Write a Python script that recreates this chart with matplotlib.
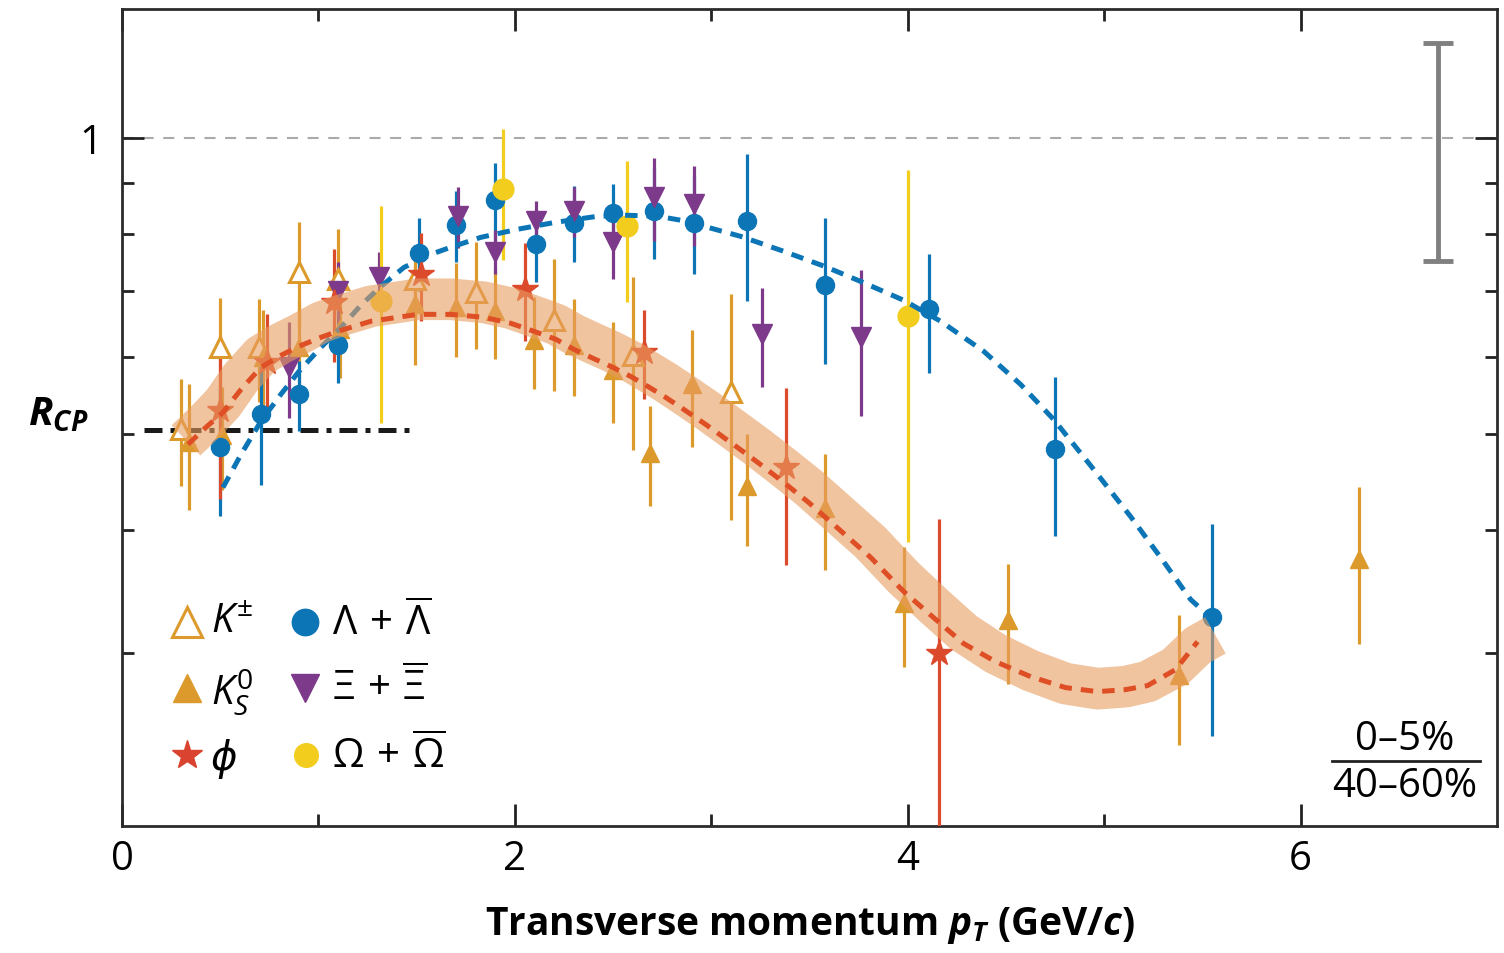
import matplotlib
matplotlib.use('Agg')
import matplotlib.pyplot as plt
from matplotlib.ticker import FixedLocator, FixedFormatter, NullFormatter

plt.rcParams['font.family'] = ['Open Sans', 'DejaVu Sans']
plt.rcParams['mathtext.fontset'] = 'custom'
plt.rcParams['mathtext.rm'] = 'Open Sans'
plt.rcParams['mathtext.it'] = 'Open Sans:italic'
plt.rcParams['mathtext.bf'] = 'Open Sans:bold'
plt.rcParams['mathtext.bfit'] = 'Open Sans:italic:bold'

# --- data (pT in GeV/c, R_CP) ---
kch_x = [0.30, 0.50, 0.70, 0.90, 1.10, 1.49, 1.80, 2.20, 2.60, 3.10]
kch_y = [0.506, 0.613, 0.613, 0.732, 0.719, 0.719, 0.697, 0.653, 0.602, 0.552]
kch_err = [0.063, 0.075, 0.073, 0.09, 0.09, 0.06, 0.087, 0.10, 0.12, 0.143]

ks_x = [0.34, 0.51, 0.72, 0.90, 1.11, 1.49, 1.70, 1.90, 2.10, 2.30, 2.50, 2.69,
        2.90, 3.18, 3.58, 3.98, 4.51, 5.38, 6.30]
ks_y = [0.491, 0.499, 0.599, 0.613, 0.640, 0.678, 0.673, 0.667, 0.623, 0.617,
        0.582, 0.479, 0.562, 0.443, 0.421, 0.337, 0.324, 0.285, 0.374]
ks_err = [0.072, 0.06, 0.07, 0.07, 0.07, 0.09, 0.073, 0.07, 0.067, 0.07,
          0.068, 0.056, 0.076, 0.058, 0.057, 0.047, 0.045, 0.043, 0.068]

phi_x = [0.50, 0.74, 1.08, 1.52, 2.05, 2.66, 3.38, 4.16]
phi_y = [0.530, 0.593, 0.682, 0.727, 0.702, 0.606, 0.463, 0.300]
phi_err = [0.10, 0.07, 0.09, 0.075, 0.08, 0.063, 0.095, 0.11]

lam_x = [0.50, 0.71, 0.90, 1.10, 1.51, 1.70, 1.90, 2.11, 2.30, 2.50, 2.71, 2.91,
         3.18, 3.58, 4.11, 4.75, 5.55]
lam_y = [0.485, 0.524, 0.549, 0.617, 0.764, 0.816, 0.865, 0.780, 0.821, 0.839,
         0.843, 0.821, 0.823, 0.709, 0.670, 0.483, 0.326]
lam_err = [0.072, 0.08, 0.045, 0.053, 0.065, 0.067, 0.078, 0.065, 0.073, 0.06,
           0.09, 0.094, 0.14, 0.12, 0.093, 0.089, 0.079]

xi_x = [0.85, 1.10, 1.31, 1.71, 1.90, 2.11, 2.30, 2.50, 2.71, 2.91, 3.26, 3.76]
xi_y = [0.585, 0.699, 0.722, 0.833, 0.767, 0.823, 0.843, 0.784, 0.871, 0.857, 0.632, 0.628]
xi_err = [0.065, 0.05, 0.045, 0.06, 0.04, 0.04, 0.05, 0.064, 0.084, 0.08, 0.073, 0.106]

om_x = [1.32, 1.94, 2.57, 4.00]
om_y = [0.684, 0.887, 0.814, 0.659]
om_err = [0.17, 0.135, 0.133, 0.27]

# fitted curves, traced point by point
lamfit_x = [0.514, 0.606, 0.707, 0.809, 0.901, 1.013, 1.115, 1.216, 1.318, 1.435,
            1.573, 1.674, 1.827, 2.015, 2.209, 2.422, 2.575, 2.728, 2.845, 2.962,
            3.150, 3.369, 3.578, 3.761, 3.980, 4.168, 4.387, 4.575, 4.743, 4.931,
            5.135, 5.288, 5.440, 5.542]
lamfit_y = [0.4416, 0.4771, 0.5155, 0.5492, 0.5795, 0.6131, 0.6424, 0.6764, 0.7069,
            0.7390, 0.7621, 0.7748, 0.7930, 0.8082, 0.8215, 0.8331, 0.8350, 0.8331,
            0.8254, 0.8139, 0.7948, 0.7675, 0.7408, 0.7152, 0.6844, 0.6516, 0.6074,
            0.5621, 0.5179, 0.4650, 0.4126, 0.3749, 0.3399, 0.3257]

kfit_x = [0.336, 0.427, 0.514, 0.606, 0.707, 0.809, 0.901, 1.013, 1.099, 1.267,
          1.506, 1.674, 1.842, 1.980, 2.097, 2.209, 2.300, 2.387, 2.489, 2.590,
          2.677, 2.768, 2.860, 2.972, 3.099, 3.237, 3.369, 3.496, 3.623, 3.812,
          3.980, 4.132, 4.285, 4.448, 4.626, 4.804, 4.967, 5.109, 5.221, 5.364, 5.476]
kfit_y = [0.4885, 0.5083, 0.5265, 0.5555, 0.5849, 0.6016, 0.6145, 0.6276, 0.6365,
          0.6516, 0.6622, 0.6622, 0.6577, 0.6485, 0.6365, 0.6247, 0.6102, 0.5989,
          0.5863, 0.5727, 0.5595, 0.5453, 0.5302, 0.5118, 0.4907, 0.4683, 0.4469,
          0.4264, 0.4050, 0.3749, 0.3462, 0.3257, 0.3065, 0.2938, 0.2837, 0.2765,
          0.2739, 0.2752, 0.2778, 0.2884, 0.3079]

band_x = [0.326, 0.427, 0.514, 0.606, 0.707, 0.809, 0.901, 1.013, 1.099, 1.267,
          1.506, 1.674, 1.842, 1.980, 2.097, 2.209, 2.300, 2.387, 2.489, 2.590,
          2.677, 2.768, 2.860, 2.972, 3.099, 3.237, 3.369, 3.496, 3.623, 3.812,
          3.980, 4.132, 4.285, 4.448, 4.626, 4.804, 4.967, 5.109, 5.221, 5.364,
          5.476, 5.567]
band_y = [0.4931, 0.5155, 0.5378, 0.5714, 0.6016, 0.6188, 0.6320, 0.6501, 0.6592,
          0.6747, 0.6860, 0.6860, 0.6812, 0.6717, 0.6592, 0.6470, 0.6320, 0.6203,
          0.6074, 0.5933, 0.5795, 0.5648, 0.5492, 0.5302, 0.5083, 0.4851, 0.4628,
          0.4417, 0.4195, 0.3882, 0.3577, 0.3350, 0.3145, 0.2994, 0.2877, 0.2791,
          0.2758, 0.2771, 0.2804, 0.2904, 0.3052, 0.3125]

ref_x = [0.11, 1.46]
ref_y = [0.505, 0.505]

sys_x, sys_y, sys_err = 6.70, 1.0, 0.25

x_major = [0, 2, 4, 6]
x_minor = [1, 3, 5]
y_major = [1]
y_minor = [0.3, 0.4, 0.5, 0.6, 0.7, 0.8, 0.9]

c_k = '#dc9a2c'
c_phi = '#dc4a2c'
c_lam = '#0b75b6'
c_xi = '#7e3a8a'
c_om = '#f2cd1e'
c_band = '#e89d61'

fig = plt.figure(figsize=(15.04, 9.54), dpi=100)
ax = fig.add_axes([0.0811, 0.1331, 0.9142, 0.8564])

ax.axhline(1.0, color='#aaaaaa', lw=1.5, ls=(0, (5.3, 4.6)), zorder=1)
ax.plot(ref_x, ref_y, color='#1a1a1a', lw=3.6, ls=(0, (3.6, 1.6, 1.0, 1.6)), zorder=2)

ekw = dict(elinewidth=2.3, capsize=0, linestyle='none', zorder=3)
ax.errorbar(kch_x, kch_y, yerr=kch_err, fmt='^', color=c_k, ms=14, mfc='white',
            mec=c_k, mew=2.2, **ekw)
ax.errorbar(ks_x, ks_y, yerr=ks_err, fmt='^', color=c_k, ms=13, **ekw)
ax.errorbar(lam_x, lam_y, yerr=lam_err, fmt='o', color=c_lam, ms=13, **ekw)
ax.errorbar(xi_x, xi_y, yerr=xi_err, fmt='v', color=c_xi, ms=15, **ekw)
ax.errorbar(om_x, om_y, yerr=om_err, fmt='o', color=c_om, ms=15, **ekw)
ax.errorbar(phi_x, phi_y, yerr=phi_err, fmt='*', color=c_phi, ms=19, **ekw)

ax.plot(lamfit_x, lamfit_y, color=c_lam, lw=3.6, ls=(0, (2.5, 1.8)), zorder=4)
ax.plot(band_x, band_y, color=c_band, alpha=0.6, lw=30, solid_capstyle='butt',
        solid_joinstyle='round', zorder=5)
ax.plot(kfit_x, kfit_y, color='#df4f26', lw=3.6, ls=(0, (2.5, 1.8)), zorder=6)

ax.errorbar([sys_x], [sys_y], yerr=[sys_err], fmt='none', ecolor='#808080',
            elinewidth=3.5, capsize=11, capthick=3.5, zorder=3)

ax.set_xlim(0, 7)
ax.set_yscale('log')
ax.set_ylim(0.2, 1.353)
ax.xaxis.set_major_locator(FixedLocator(x_major))
ax.xaxis.set_minor_locator(FixedLocator(x_minor))
ax.xaxis.set_minor_formatter(NullFormatter())
ax.yaxis.set_major_locator(FixedLocator(y_major))
ax.yaxis.set_major_formatter(FixedFormatter(['1']))
ax.yaxis.set_minor_locator(FixedLocator(y_minor))
ax.yaxis.set_minor_formatter(NullFormatter())
ax.tick_params(which='both', direction='in', top=True, right=True,
               width=2, color='#222222', labelsize=29)
ax.tick_params(which='major', length=16)
ax.tick_params(which='minor', length=8.5)
ax.tick_params(axis='x', pad=9)
ax.tick_params(axis='y', pad=14)
for s in ax.spines.values():
    s.set_linewidth(2)
    s.set_color('#2b2b2b')

# legend built by hand
tr = ax.transAxes
leg_rows = [0.2497, 0.169, 0.0869]
ax.plot(0.0473, leg_rows[0], '^', ms=21, mfc='white', mec=c_k, mew=2.2, transform=tr, clip_on=False)
ax.plot(0.0473, leg_rows[1], '^', ms=20, color=c_k, transform=tr, clip_on=False)
ax.plot(0.0473, leg_rows[2], '*', ms=22, color='#d9432f', transform=tr, clip_on=False)
ax.plot(0.133, leg_rows[0], 'o', ms=19, color=c_lam, transform=tr, clip_on=False)
ax.plot(0.133, leg_rows[1], 'v', ms=20, color=c_xi, transform=tr, clip_on=False)
ax.plot(0.134, leg_rows[2], 'o', ms=17, color=c_om, transform=tr, clip_on=False)
tkw = dict(transform=tr, fontsize=29, va='center', ha='left')
ax.text(0.0647, leg_rows[0], r'$K^{\pm}$', **tkw)
ax.text(0.0647, leg_rows[1] - 0.005, r'$K^{0}_{S}$', **tkw)
ax.text(0.0647, leg_rows[2] - 0.004, '\u03d5', style='italic', **tkw)
ax.text(0.1525, leg_rows[0], r'$\Lambda\,+\,\overline{\Lambda}$', **tkw)
ax.text(0.1525, leg_rows[1], r'$\Xi\,+\,\overline{\Xi}$', **tkw)
ax.text(0.1525, leg_rows[2], r'$\Omega\,+\,\overline{\Omega}$', **tkw)

# centrality ratio label
ax.text(0.933, 0.1065, '0\u20135%', transform=tr, fontsize=29, ha='center', va='center')
ax.text(0.933, 0.049, '40\u201360%', transform=tr, fontsize=29, ha='center', va='center')
ax.plot([0.880, 0.988], [0.0796, 0.0796], transform=tr, color='#222222', lw=2, clip_on=False)

fig.text(0.0186, 0.5545, r'$\mathbfit{R}_{\mathbfit{CP}}$', fontsize=29, ha='left', va='baseline')
fig.text(0.5386, 0.02, r'Transverse momentum $\mathbfit{p}_{\mathbfit{T}}$ (GeV/$\mathbfit{c}$)',
         fontsize=28, fontweight='bold', ha='center', va='baseline')

fig.savefig('out.png', dpi=100)
